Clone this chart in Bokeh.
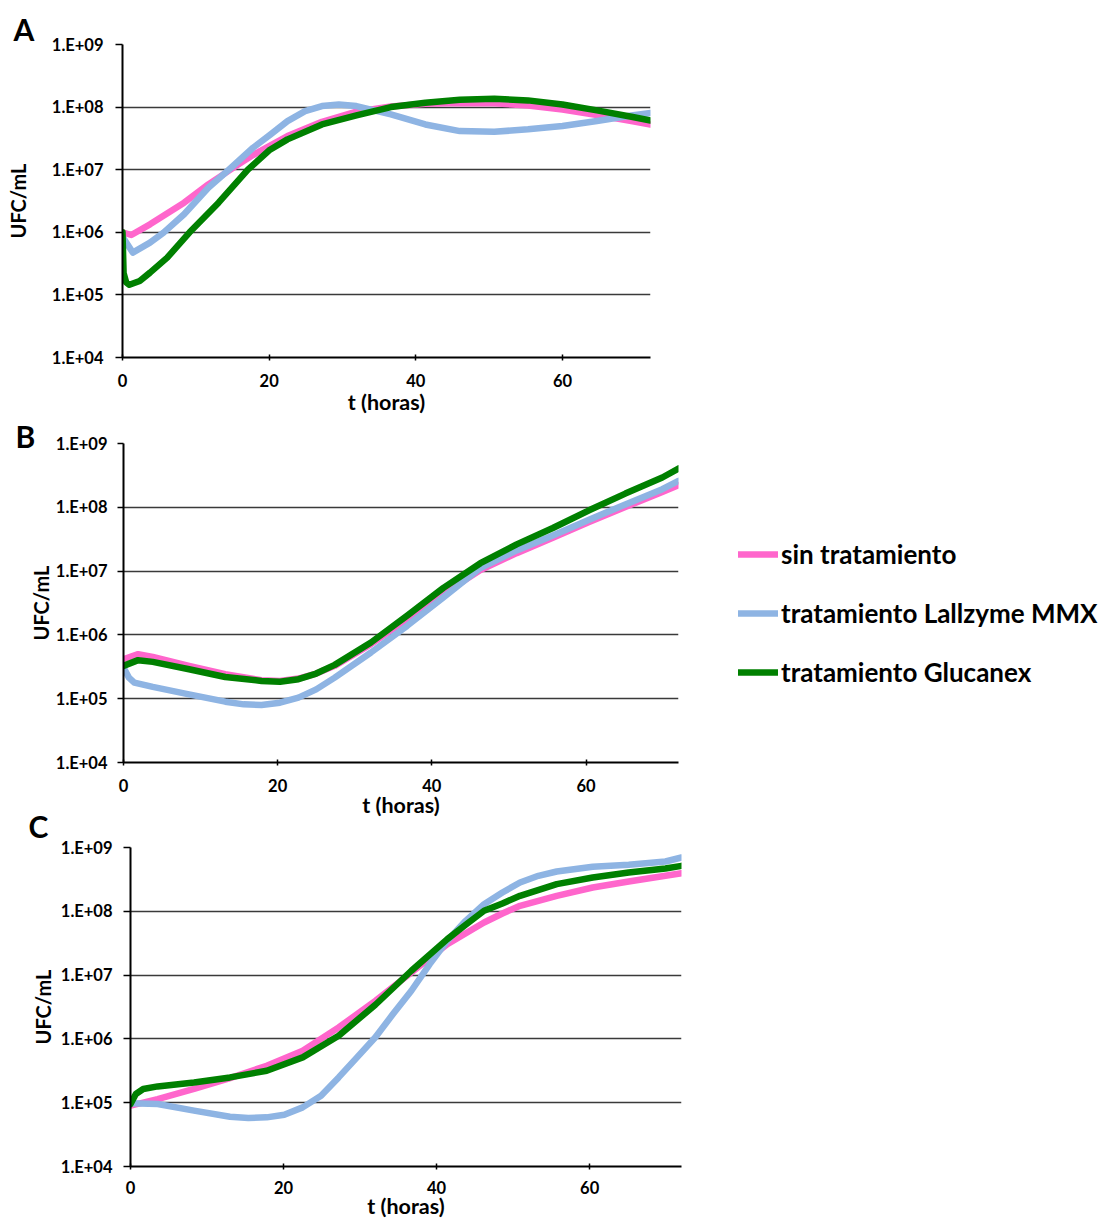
from bokeh.plotting import figure
from bokeh.models import Range1d, FixedTicker, CustomJSTickFormatter, Legend, LegendItem, Title
from bokeh.layouts import column, row
from bokeh.embed import file_html
from bokeh.resources import INLINE

# ---------------- data (UFC/mL vs t in hours) ----------------
series_names = ["sin tratamiento", "tratamiento Lallzyme MMX", "tratamiento Glucanex"]
series_colors = ["#FF66CC", "#8EB4E3", "#008000"]

# Panel A
tA_sin = [0, 1.2, 3.75, 8.4, 11.7, 15.5, 17.8, 22.5, 27.2, 31.9, 36.6, 41.3, 46.0, 50.7, 55.3, 60.0, 64.7, 69.4, 72.0]
ufcA_sin = [1.0e6, 9.06e5, 1.34e6, 2.97e6, 5.83e6, 1.15e7, 1.71e7, 3.44e7, 5.83e7, 8.44e7, 1.02e8, 1.13e8,
            1.16e8, 1.15e8, 1.06e8, 9.18e7, 7.45e7, 5.98e7, 5.28e7]
tA_lal = [0, 1.4, 3.75, 5.6, 8.4, 11.7, 14.5, 17.8, 20.2, 22.5, 24.9, 27.2, 29.5, 31.9, 36.6, 41.3, 46.0,
          50.7, 55.3, 60.0, 64.7, 69.4, 72.0]
ufcA_lal = [8.5e5, 4.74e5, 6.84e5, 9.9e5, 1.94e6, 5.16e6, 1.0e7, 2.24e7, 3.66e7, 5.98e7, 8.63e7, 1.04e8, 1.10e8,
            1.04e8, 7.64e7, 5.28e7, 4.14e7, 4.04e7, 4.41e7, 4.98e7, 5.98e7, 7.36e7, 8.02e7]
tA_glu = [0, 0.15, 0.5, 0.94, 2.35, 3.75, 6.1, 9.15, 13.1, 17.1, 20.0, 22.5, 27.2, 31.9, 36.6, 41.3, 46.0,
          50.7, 55.3, 60.0, 64.7, 69.4, 72.0]
ufcA_glu = [1.0e6, 2.24e5, 1.58e5, 1.45e5, 1.67e5, 2.27e5, 3.94e5, 1.0e6, 2.97e6, 1.0e7, 2.04e7, 3.05e7, 5.28e7,
            7.36e7, 1.0e8, 1.17e8, 1.31e8, 1.36e8, 1.28e8, 1.10e8, 8.85e7, 7.0e7, 6.12e7]

# Panel B
tB = [0, 1.9, 3.8, 8.5, 13.2, 17.9, 20.3, 22.7, 25.0, 27.4, 32.1, 36.8, 41.5, 46.3, 51.0, 55.7, 60.4, 65.1, 69.9, 72.0]
ufcB_sin = [4.16e5, 4.99e5, 4.53e5, 3.27e5, 2.42e5, 1.95e5, 1.90e5, 2.07e5, 2.48e5, 3.27e5, 7.16e5, 1.77e6,
            4.39e6, 1.04e7, 1.91e7, 3.33e7, 5.88e7, 1.01e8, 1.74e8, 2.22e8]
ufcB_glu = [3.27e5, 4.02e5, 3.78e5, 2.90e5, 2.19e5, 1.90e5, 1.85e5, 2.02e5, 2.48e5, 3.39e5, 7.6e5, 2.0e6,
            5.45e6, 1.33e7, 2.62e7, 4.73e7, 8.97e7, 1.64e8, 2.93e8, 4.06e8]
tB_lal = [0, 0.7, 1.4, 3.8, 8.5, 13.2, 15.6, 17.9, 20.3, 22.7, 25.0, 27.4, 32.1, 36.8, 41.5, 46.3, 51.0, 55.7,
          60.4, 65.1, 69.9, 72.0]
ufcB_lal = [3.08e5, 2.14e5, 1.79e5, 1.53e5, 1.17e5, 8.98e4, 8.15e4, 7.96e4, 8.67e4, 1.04e5, 1.40e5, 2.14e5,
            5.3e5, 1.39e6, 3.88e6, 1.12e7, 2.11e7, 3.63e7, 6.4e7, 1.11e8, 1.92e8, 2.59e8]

# Panel C
tC_sin = [0, 3.55, 8.3, 13.0, 17.8, 22.5, 27.2, 32.0, 36.7, 41.4, 46.2, 48.6, 50.9, 55.7, 60.4, 65.1, 69.9, 72.0]
ufcC_sin = [8.98e4, 1.14e5, 1.64e5, 2.43e5, 3.80e5, 6.53e5, 1.51e6, 3.96e6, 1.10e7, 3.06e7, 6.68e7, 9.25e7,
            1.22e8, 1.75e8, 2.36e8, 2.93e8, 3.60e8, 3.96e8]
tC_glu = [0, 0.7, 1.66, 3.55, 8.3, 13.0, 17.8, 22.5, 27.2, 32.0, 36.7, 41.4, 43.8, 46.2, 48.6, 50.9, 55.7,
          60.4, 65.1, 69.9, 72.0]
ufcC_glu = [9.53e4, 1.37e5, 1.64e5, 1.80e5, 2.08e5, 2.49e5, 3.17e5, 5.13e5, 1.12e6, 3.43e6, 1.17e7, 3.66e7,
            6.15e7, 1.02e8, 1.33e8, 1.75e8, 2.67e8, 3.39e8, 4.06e8, 4.69e8, 5.16e8]
tC_lal = [0, 3.55, 8.3, 13.0, 15.4, 17.8, 20.1, 22.5, 24.9, 27.2, 29.6, 32.0, 34.3, 36.7, 39.1, 41.4, 43.8,
          46.2, 48.6, 50.9, 53.3, 55.7, 60.4, 65.1, 69.9, 72.0]
ufcC_lal = [9.77e4, 9.53e4, 7.5e4, 6.04e4, 5.75e4, 5.89e4, 6.49e4, 8.45e4, 1.29e5, 2.49e5, 5.13e5, 1.06e6,
            2.45e6, 5.69e6, 1.49e7, 3.45e7, 7.1e7, 1.29e8, 1.97e8, 2.83e8, 3.6e8, 4.21e8, 4.98e8, 5.35e8,
            6.04e8, 6.97e8]

y_ticks = [1e4, 1e5, 1e6, 1e7, 1e8, 1e9]
x_ticks = [0, 20, 40, 60]
x_label = "t (horas)"
y_label = "UFC/mL"
panel_letters = ["A", "B", "C"]

FONT = "Lato"


def style_letter(t, letter, offset, standoff):
    t.text = letter
    t.align = "left"
    t.vertical_align = "bottom"
    t.offset = offset
    t.standoff = standoff
    t.text_font = FONT
    t.text_font_style = "bold"
    t.text_font_size = "30px"
    t.text_color = "black"


def make_panel(width, height, left, right, top, bottom, series, ylab_standoff, ytick_standoff, ytick_out,
               xtick_standoff=13, xlab_standoff=-3):
    p = figure(width=width, height=height, y_axis_type="log",
               x_range=Range1d(0, 72), y_range=Range1d(1e4, 1e9),
               output_backend="svg", toolbar_location=None,
               min_border_left=left, min_border_right=right,
               min_border_top=top, min_border_bottom=bottom)
    p.outline_line_color = None
    p.background_fill_color = "white"
    p.border_fill_color = "white"
    p.xgrid.visible = False
    p.ygrid.ticker = FixedTicker(ticks=y_ticks)
    p.ygrid.grid_line_color = "#3a3a3a"
    p.ygrid.grid_line_width = 1.6

    p.yaxis.ticker = FixedTicker(ticks=y_ticks, minor_ticks=[])
    p.yaxis.formatter = CustomJSTickFormatter(
        code="const e = Math.round(Math.log10(tick)); return '1.E+' + (e < 10 ? '0' : '') + e;")
    p.xaxis.ticker = FixedTicker(ticks=x_ticks, minor_ticks=[])
    for ax in (p.xaxis[0], p.yaxis[0]):
        ax.axis_line_color = "black"
        ax.axis_line_width = 2
        ax.major_tick_line_color = "black"
        ax.major_tick_line_width = 1.5
        ax.minor_tick_line_color = None
        ax.major_label_text_font = FONT
        ax.major_label_text_font_style = "bold"
        ax.major_label_text_font_size = "16.5px"
        ax.major_label_text_color = "black"
        ax.axis_label_text_font = FONT
        ax.axis_label_text_font_style = "bold"
        ax.axis_label_text_color = "black"
    p.yaxis.axis_label_text_font_size = "20px"
    p.xaxis.axis_label_text_font_size = "21.5px"
    p.yaxis.major_tick_in = 0
    p.yaxis.major_tick_out = ytick_out
    p.yaxis.major_label_standoff = ytick_standoff
    p.yaxis.axis_label = y_label
    p.yaxis.axis_label_standoff = ylab_standoff
    p.xaxis.major_tick_in = 3
    p.xaxis.major_tick_out = 3
    p.xaxis.major_label_standoff = xtick_standoff
    p.xaxis.axis_label = x_label
    p.xaxis.axis_label_standoff = xlab_standoff

    for (t, v), c in zip(series, series_colors):
        p.line(t, v, line_color=c, line_width=6.5, line_cap="round", line_join="round")
    return p


pA = make_panel(700, 417, 122, 50, 44, 60,
                [(tA_sin, ufcA_sin), (tA_lal, ufcA_lal), (tA_glu, ufcA_glu)], 19, 12, 7,
                xtick_standoff=13, xlab_standoff=-1)
style_letter(pA.title, panel_letters[0], -109, -5)

pB = make_panel(700, 428, 123, 22, 26, 83,
                [(tB, ufcB_sin), (tB_lal, ufcB_lal), (tB, ufcB_glu)], 0, 10, 6)
style_letter(pB.title, panel_letters[1], -108, -21)
# letter C sits in the gap between panels B and C: attach it below panel B's axis
titleC = Title()
style_letter(titleC, panel_letters[2], -95, -29)
pB.add_layout(titleC, "below")

pC = make_panel(700, 384, 130, 19, 10, 55,
                [(tC_sin, ufcC_sin), (tC_lal, ufcC_lal), (tC_glu, ufcC_glu)], 3, 11, 7,
                xtick_standoff=11, xlab_standoff=-4)
pC.border_fill_alpha = 0          # its transparent top margin overlaps the bottom of panel B
pC.margin = (-8, 0, 0, 0)

# legend panel
pL = figure(width=400, height=428, output_backend="svg", toolbar_location=None,
            x_range=Range1d(0, 1), y_range=Range1d(0, 1),
            x_axis_location=None, y_axis_location=None, min_border=0)
pL.outline_line_color = None
pL.grid.visible = False
items = []
for name, c in zip(series_names, series_colors):
    # proxy renderers drawn outside the visible range; only their legend swatch shows
    r = pL.line(x=[5, 6], y=[5, 5], line_color=c, line_width=6.5, line_cap="round")
    items.append(LegendItem(label=name, renderers=[r]))
legend = Legend(items=items, location=(38, 74), border_line_color=None, background_fill_alpha=0,
                padding=0, margin=0, glyph_width=40, glyph_height=20, label_height=20, spacing=27,
                label_standoff=3, label_text_font=FONT, label_text_font_style="bold",
                label_text_font_size="26px", label_text_color="black")
pL.add_layout(legend)

layout = column(row(pA), row(pB, pL), pC)
open("out.html", "w").write(file_html(layout, INLINE))
